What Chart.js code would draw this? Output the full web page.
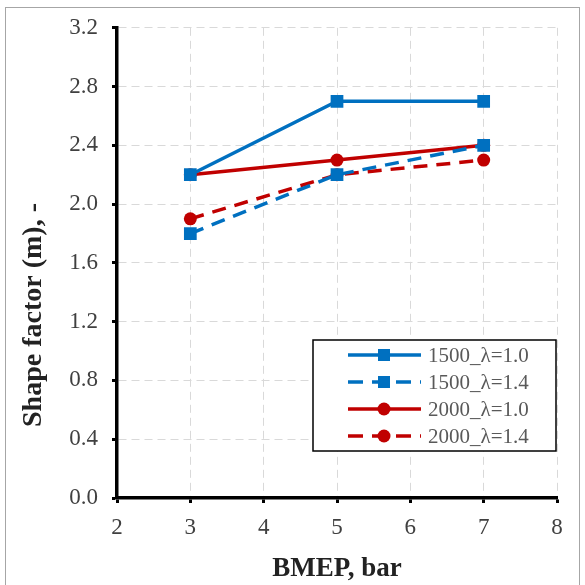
<!DOCTYPE html>
<html><head><meta charset="utf-8">
<script src="https://cdn.jsdelivr.net/npm/chart.js@4.4.0/dist/chart.umd.min.js"></script>
<style>
html,body{margin:0;padding:0;background:#fff;}
#wrap{position:relative;width:585px;height:585px;overflow:hidden;}
#frame{position:absolute;left:5px;top:7px;width:575px;height:600px;border:1px solid #a6a6a6;box-sizing:border-box;pointer-events:none;}
canvas{position:absolute;left:0;top:0;}
</style></head>
<body><div id="wrap"><canvas id="c" width="585" height="585"></canvas><div id="frame"></div></div>
<script>
const bmep = [3, 5, 7];
const s1500_l10 = [2.2, 2.7, 2.7];
const s1500_l14 = [1.8, 2.2, 2.4];
const s2000_l10 = [2.2, 2.3, 2.4];
const s2000_l14 = [1.9, 2.2, 2.3];
const seriesNames = ['1500_\u03bb=1.0', '1500_\u03bb=1.4', '2000_\u03bb=1.0', '2000_\u03bb=1.4'];
const xTicks = [2, 3, 4, 5, 6, 7, 8];
const yTicks = [0.0, 0.4, 0.8, 1.2, 1.6, 2.0, 2.4, 2.8, 3.2];
const xTitle = 'BMEP, bar';
const yTitle = 'Shape factor (m), -';

const BLUE = '#0070C0', RED = '#C00000';
const SERIF = '"Liberation Serif", "Times New Roman", serif';
const DASH = [14, 9];
const pts = arr => bmep.map((x, i) => ({x: x, y: arr[i]}));
function ds(label, data, color, dashed, style) {
  const r = style === 'rect' ? 9 : 6.5;
  return {
    label, data: pts(data), borderColor: color, backgroundColor: color,
    borderWidth: 3.5, borderDash: dashed ? DASH : [], pointStyle: style,
    pointRadius: r, pointHoverRadius: r,
    pointBorderWidth: 0, tension: 0, fill: false
  };
}

const extrasPlugin = {
  id: 'extras',
  afterDatasetsDraw(chart) {
    const ctx = chart.ctx;
    // y axis title
    ctx.save();
    ctx.translate(34, 315);
    ctx.rotate(-Math.PI / 2);
    ctx.fillStyle = '#222';
    ctx.font = 'bold 28px ' + SERIF;
    ctx.textAlign = 'center';
    ctx.textBaseline = 'middle';
    ctx.fillText(yTitle, 0, 0);
    ctx.restore();
    // legend box
    const x0 = 313, y0 = 340, w = 243, h = 111;
    ctx.save();
    ctx.fillStyle = '#fff';
    ctx.fillRect(x0, y0, w, h);
    ctx.strokeStyle = '#000';
    ctx.lineWidth = 1.5;
    ctx.strokeRect(x0, y0, w, h);
    const rows = [355, 382, 409, 436];
    chart.data.datasets.forEach((d, i) => {
      const y = rows[i];
      ctx.strokeStyle = d.borderColor;
      ctx.lineWidth = 3.5;
      ctx.setLineDash(d.borderDash.length ? [15, 9] : []);
      ctx.beginPath(); ctx.moveTo(348, y); ctx.lineTo(421, y); ctx.stroke();
      ctx.setLineDash([]);
      ctx.fillStyle = d.backgroundColor;
      if (d.pointStyle === 'rect') { ctx.fillRect(378, y - 6, 12, 12); }
      else { ctx.beginPath(); ctx.arc(384, y, 6.5, 0, Math.PI * 2); ctx.fill(); }
      ctx.fillStyle = '#595959';
      ctx.font = '21px ' + SERIF;
      ctx.textBaseline = 'middle';
      ctx.textAlign = 'left';
      ctx.fillText(d.label, 428, y + 1);
    });
    ctx.restore();
  }
};

const gridCommon = { color: '#d9d9d9', lineWidth: 1, tickColor: '#000', tickWidth: 3, tickLength: 5, tickBorderDash: [] };
const borderCommon = { display: true, color: '#000', width: 3.5, dash: [8, 5] };

new Chart(document.getElementById('c'), {
  type: 'line',
  data: { datasets: [
    ds(seriesNames[0], s1500_l10, BLUE, false, 'rect'),
    ds(seriesNames[1], s1500_l14, BLUE, true, 'rect'),
    ds(seriesNames[2], s2000_l10, RED, false, 'circle'),
    ds(seriesNames[3], s2000_l14, RED, true, 'circle')
  ]},
  options: {
    responsive: false, animation: false,
    layout: { padding: { left: 0, top: 26, right: 28, bottom: 0 } },
    plugins: { legend: { display: false }, tooltip: { enabled: false } },
    scales: {
      x: {
        type: 'linear', min: 2, max: 8,
        afterBuildTicks: s => { s.ticks = xTicks.map(v => ({value: v})); },
        afterFit: s => { s.height = 87; },
        border: borderCommon,
        grid: gridCommon,
        ticks: { color: '#404040', font: { family: SERIF, size: 23 }, padding: 11, callback: v => String(v) },
        title: { display: true, text: xTitle, color: '#222', font: { family: SERIF, size: 27, weight: 'bold' }, padding: { top: 6, bottom: 0 } }
      },
      y: {
        type: 'linear', min: 0, max: 3.2,
        afterBuildTicks: s => { s.ticks = yTicks.map(v => ({value: v})); },
        afterFit: s => { s.width = 117; },
        border: borderCommon,
        grid: gridCommon,
        ticks: { color: '#404040', font: { family: SERIF, size: 23 }, padding: 14, callback: v => v.toFixed(1) },
        title: { display: false, text: yTitle }
      }
    }
  },
  plugins: [extrasPlugin]
});
</script></body></html>
